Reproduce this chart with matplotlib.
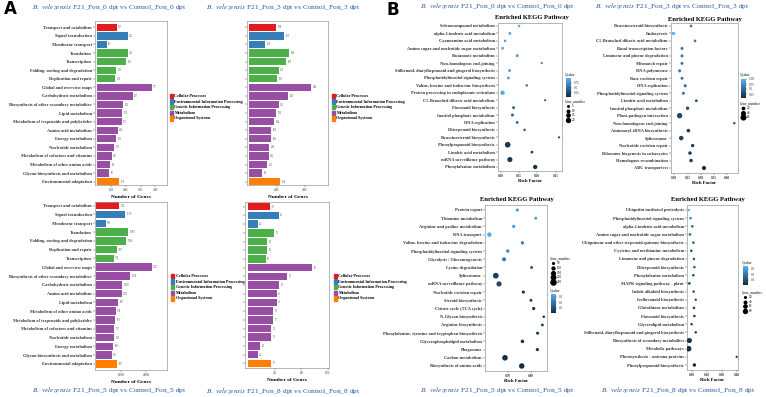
import matplotlib
matplotlib.use("Agg")
import matplotlib.pyplot as plt
import numpy as np
from matplotlib.colors import LinearSegmentedColormap, Normalize
from matplotlib.cm import ScalarMappable

plt.rcParams['font.family'] = ['Liberation Serif', 'DejaVu Serif']
plt.rcParams['mathtext.fontset'] = 'stix'

# ---------------- data: panel A (KEGG level-2 classes) ----------------
class_names = ["Cellular Processes", "Environmental Information Processing",
               "Genetic Information Processing", "Metabolism", "Organismal Systems"]
class_colors = ["#E41A1C", "#377EB8", "#4DAF4A", "#984EA3", "#FF7F00"]
row_class = [0, 1, 1, 2, 2, 2, 2] + [3] * 11 + [4]

cats_0 = ["Transport and catabolism", "Signal transduction", "Membrane transport",
          "Translation", "Transcription", "Folding, sorting and degradation",
          "Replication and repair", "Global and overview maps", "Carbohydrate metabolism",
          "Biosynthesis of other secondary metabolites", "Lipid metabolism",
          "Metabolism of terpenoids and polyketides", "Amino acid metabolism",
          "Energy metabolism", "Nucleotide metabolism", "Metabolism of cofactors and vitamins",
          "Metabolism of other amino acids", "Glycan biosynthesis and metabolism",
          "Environmental adaptation"]
cats_5 = ["Transport and catabolism", "Signal transduction", "Membrane transport",
          "Translation", "Folding, sorting and degradation", "Replication and repair",
          "Transcription", "Global and overview maps",
          "Biosynthesis of other secondary metabolites", "Carbohydrate metabolism",
          "Amino acid metabolism", "Lipid metabolism", "Metabolism of other amino acids",
          "Metabolism of terpenoids and polyketides", "Metabolism of cofactors and vitamins",
          "Nucleotide metabolism", "Energy metabolism", "Glycan biosynthesis and metabolism",
          "Environmental adaptation"]

genes_0 = [137, 212, 69, 212, 201, 133, 126, 377, 247, 183, 176, 171, 144, 133, 121, 103, 94, 85, 155]
genes_3 = [198, 255, 118, 288, 269, 215, 205, 444, 283, 215, 196, 184, 160, 160, 146, 142, 132, 94, 224]
genes_5 = [924, 1179, 388, 1299, 1206, 857, 710, 2237, 1366, 1058, 1031, 897, 790, 763, 737, 723, 683, 630, 857]
genes_8 = [33, 46, 14, 39, 29, 28, 26, 96, 59, 47, 43, 43, 38, 37, 34, 34, 18, 14, 35]

# ---------------- data: panel B (enriched KEGG pathways) ----------------
terms_b0 = ["Selenocompound metabolism", "alpha-Linolenic acid metabolism",
            "Cyanoamino acid metabolism", "Amino sugar and nucleotide sugar metabolism",
            "Butanoate metabolism", "Non-homologous end-joining",
            "Stilbenoid, diarylheptanoid and gingerol biosynthesis",
            "Phosphatidylinositol signaling system", "Valine, leucine and isoleucine biosynthesis",
            "Protein processing in endoplasmic reticulum", "C5-Branched dibasic acid metabolism",
            "Flavonoid biosynthesis", "Inositol phosphate metabolism", "DNA replication",
            "Diterpenoid biosynthesis", "Brassinosteroid biosynthesis",
            "Phenylpropanoid biosynthesis", "Linoleic acid metabolism",
            "mRNA surveillance pathway", "Phenylalanine metabolism"]
rich_b0 = [0.150, 0.125, 0.112, 0.105, 0.145, 0.212, 0.124, 0.121, 0.171, 0.105,
           0.221, 0.135, 0.132, 0.145, 0.165, 0.259, 0.119, 0.185, 0.125, 0.194]
q_b0 = [0.95, 0.85, 0.85, 0.90, 0.75, 0.70, 0.80, 0.85, 0.60, 0.95,
        0.50, 0.45, 0.45, 0.40, 0.35, 0.30, 0.10, 0.15, 0.10, 0.05]
n_b0 = [3, 4, 3, 4, 4, 2, 4, 4, 3, 12, 2, 5, 5, 4, 3, 2, 22, 4, 18, 12]

terms_b3 = ["Brassinosteroid biosynthesis", "Endocytosis", "C5-Branched dibasic acid metabolism",
            "Basal transcription factors", "Limonene and pinene degradation", "Mismatch repair",
            "RNA polymerase", "Base excision repair", "DNA replication",
            "Phosphatidylinositol signaling system", "Linoleic acid metabolism",
            "Inositol phosphate metabolism", "Plant-pathogen interaction",
            "Non-homologous end-joining", "Aminoacyl-tRNA biosynthesis", "Spliceosome",
            "Nucleotide excision repair", "Ribosome biogenesis in eukaryotes",
            "Homologous recombination", "ABC transporters"]
rich_b3 = [0.263, 0.197, 0.278, 0.229, 0.229, 0.229, 0.220, 0.229, 0.241, 0.234,
           0.283, 0.250, 0.220, 0.426, 0.253, 0.226, 0.269, 0.259, 0.263, 0.312]
q_b3 = [0.60, 1.00, 0.60, 0.55, 0.55, 0.55, 0.60, 0.55, 0.50, 0.55,
        0.30, 0.30, 0.25, 0.30, 0.20, 0.20, 0.15, 0.15, 0.15, 0.05]
n_b3 = [8, 15, 8, 10, 10, 10, 12, 10, 12, 10, 8, 15, 45, 5, 18, 30, 14, 16, 16, 25]

terms_b5 = ["Protein export", "Thiamine metabolism", "Arginine and proline metabolism",
            "RNA transport", "Valine, leucine and isoleucine degradation",
            "Phosphatidylinositol signaling system", "Glycolysis / Gluconeogenesis",
            "Lysine degradation", "Spliceosome", "mRNA surveillance pathway",
            "Nucleotide excision repair", "Steroid biosynthesis", "Citrate cycle (TCA cycle)",
            "N-Glycan biosynthesis", "Arginine biosynthesis",
            "Phenylalanine, tyrosine and tryptophan biosynthesis",
            "Glycerophospholipid metabolism", "Phagosome", "Carbon metabolism",
            "Biosynthesis of amino acids"]
rich_b5 = [0.742, 0.822, 0.726, 0.620, 0.764, 0.700, 0.684, 0.804, 0.648, 0.662,
           0.768, 0.801, 0.813, 0.857, 0.851, 0.830, 0.764, 0.829, 0.688, 0.761]
q_b5 = [0.30, 0.28, 0.30, 0.33, 0.22, 0.25, 0.20, 0.15, 0.06, 0.08,
        0.05, 0.05, 0.04, 0.04, 0.04, 0.04, 0.03, 0.03, 0.02, 0.01]
n_b5 = [50, 40, 55, 110, 55, 60, 85, 45, 190, 150, 50, 40, 55, 30, 35, 45, 65, 50, 180, 170]

terms_b8 = ["Ubiquitin mediated proteolysis", "Phosphatidylinositol signaling system",
            "alpha-Linolenic acid metabolism", "Amino sugar and nucleotide sugar metabolism",
            "Ubiquinone and other terpenoid-quinone biosynthesis",
            "Cysteine and methionine metabolism", "Limonene and pinene degradation",
            "Diterpenoid biosynthesis", "Phenylalanine metabolism",
            "MAPK signaling pathway - plant", "Indole alkaloid biosynthesis",
            "Isoflavonoid biosynthesis", "Glutathione metabolism", "Flavonoid biosynthesis",
            "Glycerolipid metabolism", "Stilbenoid, diarylheptanoid and gingerol biosynthesis",
            "Biosynthesis of secondary metabolites", "Metabolic pathways",
            "Photosynthesis - antenna proteins", "Phenylpropanoid biosynthesis"]
rich_b8 = [0.077, 0.088, 0.100, 0.084, 0.107, 0.093, 0.111, 0.114, 0.107, 0.080,
           0.109, 0.123, 0.111, 0.114, 0.095, 0.123, 0.080, 0.075, 0.400, 0.114]
q_b8 = [0.35, 0.20, 0.15, 0.15, 0.12, 0.12, 0.10, 0.10, 0.10, 0.08,
        0.08, 0.07, 0.07, 0.06, 0.06, 0.05, 0.03, 0.02, 0.02, 0.01]
n_b8 = [8, 10, 12, 12, 10, 12, 10, 10, 12, 14, 10, 8, 12, 12, 10, 10, 70, 85, 6, 28]

# ---------------- layout helpers ----------------
W, H = 766, 397
fig = plt.figure(figsize=(W / 100, H / 100), dpi=100)
title_col = "#2B55A0"
spine_col = "#9A9A9A"
cmap = LinearSegmentedColormap.from_list("gg", ["#132B43", "#56B1F7"])


def box(x0, y0, x1, y1):
    return [x0 / W, 1 - y1 / H, (x1 - x0) / W, (y1 - y0) / H]


def ftext(x, y, s, **kw):
    fig.text(x / W, 1 - y / H, s, **kw)


def rows_lim(ax, n, ftop, fbot, first, last):
    step = (last - first) / (n - 1)
    ax.set_ylim((n - 1) + (fbot - last) / step, -(first - ftop) / step)


def frame(ax):
    for sp in ax.spines.values():
        sp.set_color(spine_col)
        sp.set_linewidth(0.5)
    ax.tick_params(length=1.2, width=0.3, pad=1, colors="#333333")


def title(x, y, tag):
    ftext(x, y, r"$\it{B.\ velezensis}$ F21_Fon_%s dpt vs Control_Fon_%s dpt" % (tag, tag),
          ha="center", va="center", fontsize=5.3, color=title_col)


def bar_panel(rect, cats, vals, xlim, ticks, rows, show_labels, legend_xy):
    ax = fig.add_axes(box(*rect))
    y = np.arange(len(vals))
    cols = [class_colors[c] for c in row_class]
    ax.barh(y, vals, height=0.86, color=cols)
    for yi, v in zip(y, vals):
        ax.text(v + xlim[1] * 0.02, yi, str(v), va="center", fontsize=1.9, color="#555555")
    ax.set_xlim(*xlim)
    ax.set_xticks(ticks)
    rows_lim(ax, len(vals), rect[1], rect[3], *rows)
    ax.set_yticks(y)
    if show_labels:
        ax.set_yticklabels(cats, fontsize=3.2, fontweight="bold")
    else:
        ax.set_yticklabels([])
        ax.tick_params(axis="y", length=0)
    ax.tick_params(axis="x", labelsize=2.6)
    frame(ax)
    ax.set_xlabel("Number of Genes", fontsize=3.8, fontweight="bold", labelpad=2)
    # class legend
    lx, ly = legend_xy
    for i, (nm, c) in enumerate(zip(class_names, class_colors)):
        fig.patches.append(plt.Rectangle(((lx) / W, 1 - (ly + i * 5.6 + 2.2) / H),
                                         3.2 / W, 4.4 / H, color=c,
                                         transform=fig.transFigure, figure=fig))
        ftext(lx + 4.5, ly + i * 5.6, nm, fontsize=3.0, fontweight="bold", va="center")
    return ax


def dot_panel(rect, terms, rich, q, n, xlim, ticks, rows, norm, size_fn):
    ax = fig.add_axes(box(*rect))
    y = np.arange(len(terms))
    ax.scatter(rich, y, s=[size_fn(g) for g in n], c=q, cmap=cmap, norm=norm,
               edgecolors="none", zorder=3)
    ax.set_xlim(*xlim)
    ax.set_xticks(ticks)
    ax.set_xticklabels(["%.2f" % t for t in ticks], fontsize=2.4, fontweight="bold")
    rows_lim(ax, len(terms), rect[1], rect[3], *rows)
    ax.set_yticks(y)
    ax.set_yticklabels(terms, fontsize=3.2, fontweight="bold")
    frame(ax)
    ax.set_xlabel("Rich Factor", fontsize=3.4, fontweight="bold", labelpad=0.5)
    return ax


def q_legend(x, y, norm, ticks):
    ftext(x, y, "Qvalue", fontsize=2.6, va="center")
    cax = fig.add_axes(box(x + 1, y + 4, x + 6, y + 23))
    cb = fig.colorbar(ScalarMappable(norm=norm, cmap=cmap), cax=cax, ticks=ticks)
    cb.outline.set_visible(False)
    cb.ax.tick_params(labelsize=2.4, length=1, width=0.3, pad=1, colors="#333333")
    cb.ax.set_yticklabels(["%g" % t if t < 1 else "1.00" for t in ticks])


def n_legend(x, y, vals, size_fn, step=4.6):
    ftext(x, y, "Gene_number", fontsize=2.6, va="center")
    for i, v in enumerate(vals):
        yy = y + 5 + i * step
        fig.lines.append(plt.Line2D([(x + 3) / W], [1 - yy / H], marker="o", ls="none",
                                    markersize=np.sqrt(size_fn(v)), color="black",
                                    markeredgewidth=0, transform=fig.transFigure, figure=fig))
        ftext(x + 7, yy, str(v), fontsize=2.4, va="center")


# ---------------- panel A ----------------
ftext(4, 9, "A", fontsize=12, fontweight="bold", family="DejaVu Sans", va="center")
bar_panel((95, 21, 167, 185), cats_0, genes_0, (-11, 480), [100, 200, 300, 400],
          (27.3, 181.7), True, (170, 96))
bar_panel((247, 21, 328, 185), cats_0, genes_3, (-12, 567), [200, 400],
          (27.3, 181.7), False, (332, 96))
bar_panel((95, 202, 167, 370), cats_5, genes_5, (-40, 2840), [1000, 2000],
          (205.7, 364), True, (171, 276))
bar_panel((245, 202, 329, 368), cats_5, genes_8, (-5, 122), [40, 80, 120],
          (206.7, 363.3), False, (334, 276))
title(109, 7, "0")
title(283, 7, "3")
title(109, 390, "5")
title(283, 391, "8")

# ---------------- panel B ----------------
ftext(387, 10, "B", fontsize=12, fontweight="bold", family="DejaVu Sans", va="center")

s_b0 = lambda g: 1.2 + 0.7 * g
s_b3 = lambda g: 1.5 + 0.3 * g
s_b5 = lambda g: 1.0 + 0.085 * g
s_b8 = lambda g: 1.5 + 0.17 * g

norm_b0 = Normalize(0.0, 1.0)
norm_b3 = Normalize(0.05, 1.0)
norm_b5 = Normalize(0.01, 0.35)
norm_b8 = Normalize(0.01, 0.35)

dot_panel((498, 23, 562, 171), terms_b0, rich_b0, q_b0, n_b0, (0.0926, 0.267),
          [0.10, 0.15, 0.20, 0.25], (26, 167), norm_b0, s_b0)
dot_panel((671, 23, 738, 173), terms_b3, rich_b3, q_b3, n_b3, (0.1875, 0.44),
          [0.20, 0.25, 0.30, 0.35, 0.40], (26, 168), norm_b3, s_b3)
dot_panel((485, 205, 547, 371), terms_b5, rich_b5, q_b5, n_b5, (0.601, 0.871),
          [0.70, 0.80], (210, 366), norm_b5, s_b5)
dot_panel((687, 205, 738, 370), terms_b8, rich_b8, q_b8, n_b8, (0.064, 0.409),
          [0.10, 0.20, 0.30, 0.40], (210, 365), norm_b8, s_b8)

for cx, cy in [(532, 18), (705, 19), (517, 200), (708, 200)]:
    ftext(cx, cy, "Enriched KEGG Pathway", ha="center", va="center",
          fontsize=4.8, fontweight="bold")

q_legend(565, 74, norm_b0, [0.25, 0.50, 0.75])
n_legend(565, 101, [5, 10, 15, 20], s_b0)
q_legend(740, 75, norm_b3, [0.25, 0.50, 0.75, 1.00])
n_legend(740, 103, [20, 40, 60], s_b3)
n_legend(550, 258, [50, 100, 150, 200, 250], s_b5, step=4.8)
q_legend(550, 290, norm_b5, [0.1, 0.2, 0.3])
q_legend(742, 262, norm_b8, [0.1, 0.2, 0.3])
n_legend(742, 292, [20, 40, 60, 80], s_b8)

title(497, 6, "0")
title(672, 6, "3")
title(497, 390, "5")
title(678, 390, "8")

fig.savefig("out.png", dpi=100)
